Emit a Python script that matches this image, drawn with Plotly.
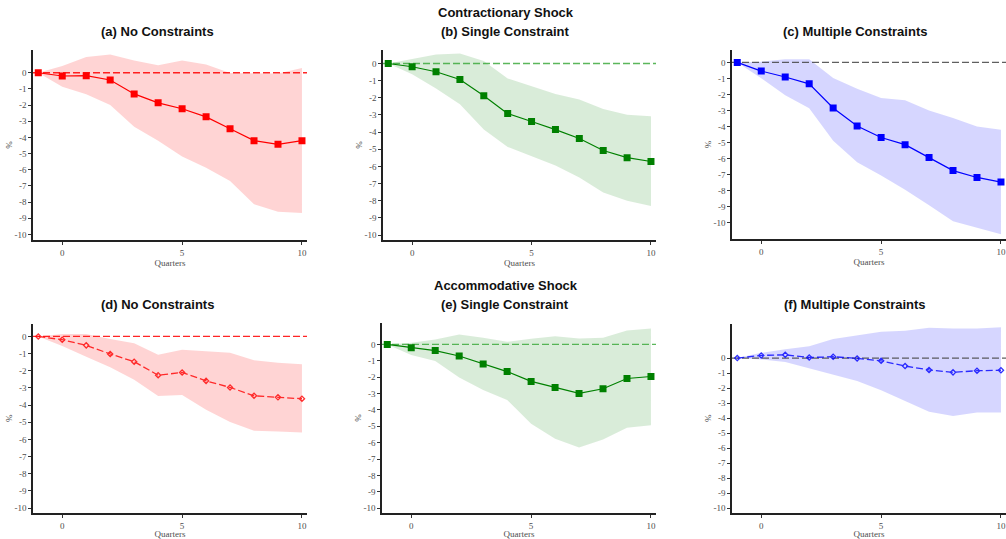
import plotly.graph_objects as go

W, H = 1006, 539
quarters = [-1, 0, 1, 2, 3, 4, 5, 6, 7, 8, 9, 10]
y_ticks = [0, -1, -2, -3, -4, -5, -6, -7, -8, -9, -10]
x_ticks = [0, 5, 10]

# (a) Contractionary - No Constraints
a_mid = [0, -0.2, -0.18, -0.45, -1.31, -1.86, -2.23, -2.73, -3.46, -4.2, -4.43, -4.2]
a_up = [0, 0.41, 0.98, 1.13, 0.76, 0.47, 0.76, 0.51, -0.02, -0.05, -0.05, 0.3]
a_lo = [0, -0.86, -1.33, -2.0, -3.34, -4.2, -5.18, -5.88, -6.7, -8.13, -8.6, -8.67]
# (b) Contractionary - Single Constraint
b_mid = [0, -0.19, -0.48, -0.93, -1.88, -2.92, -3.38, -3.85, -4.37, -5.07, -5.49, -5.71]
b_up = [0, 0.25, 0.52, 0.58, 0.15, -0.87, -1.33, -1.78, -2.09, -2.65, -2.98, -3.08]
b_lo = [0, -0.62, -1.45, -2.38, -3.85, -4.86, -5.4, -5.94, -6.65, -7.52, -8.0, -8.3]
# (c) Contractionary - Multiple Constraints
c_mid = [0, -0.54, -0.91, -1.34, -2.85, -3.97, -4.69, -5.14, -5.95, -6.76, -7.19, -7.48]
c_up = [0, 0.05, 0.2, 0.2, -0.97, -1.65, -2.23, -2.36, -3.0, -3.47, -4.0, -4.21]
c_lo = [0, -0.99, -2.05, -2.87, -4.9, -6.24, -7.07, -7.96, -8.93, -9.92, -10.31, -10.74]
# (d) Accommodative - No Constraints
d_mid = [0, -0.19, -0.52, -1.02, -1.47, -2.26, -2.1, -2.59, -2.97, -3.46, -3.55, -3.63]
d_up = [0, 0.14, 0.14, -0.15, -0.39, -1.06, -0.77, -0.87, -0.95, -1.39, -1.54, -1.62]
d_lo = [0, -0.56, -1.18, -1.8, -2.53, -3.47, -3.42, -4.27, -4.98, -5.5, -5.54, -5.6]
# (e) Accommodative - Single Constraint
e_mid = [0, -0.2, -0.38, -0.71, -1.19, -1.66, -2.26, -2.63, -2.99, -2.71, -2.08, -1.96]
e_up = [0, 0.1, 0.3, 0.61, 0.4, 0.16, 0.34, 0.5, 0.36, 0.4, 0.85, 0.97]
e_lo = [0, -0.65, -1.01, -2.02, -2.79, -3.39, -4.85, -5.76, -6.3, -5.8, -5.09, -4.93]
# (f) Accommodative - Multiple Constraints
f_mid = [0, 0.18, 0.22, 0.04, 0.09, -0.02, -0.18, -0.53, -0.79, -0.95, -0.84, -0.81]
f_up = [0, 0.35, 0.59, 0.79, 1.28, 1.5, 1.76, 1.83, 2.03, 1.98, 1.98, 2.05]
f_lo = [0, -0.09, -0.26, -0.66, -1.1, -1.52, -2.14, -2.86, -3.57, -3.85, -3.63, -3.63]

titles = ["(a) No Constraints", "(b) Single Constraint", "(c) Multiple Constraints",
          "(d) No Constraints", "(e) Single Constraint", "(f) Multiple Constraints"]
row_titles = ["Contractionary Shock", "Accommodative Shock"]

RED, GREEN, BLUE = "#ff0000", "#008000", "#0000ff"
panels = [
    dict(mid=a_mid, up=a_up, lo=a_lo, col=RED, band="rgba(255,0,0,0.17)", zero="#ff0000", dash=False,
         px=(33, 307), py=(50, 242), yr=(-10.36, 1.43)),
    dict(mid=b_mid, up=b_up, lo=b_lo, col=GREEN, band="rgba(0,128,0,0.15)", zero="#3faa3f", dash=False,
         px=(383, 656), py=(50, 242), yr=(-10.3, 0.81)),
    dict(mid=c_mid, up=c_up, lo=c_lo, col=BLUE, band="rgba(0,0,255,0.16)", zero="#444444", dash=False,
         px=(732, 1006), py=(50, 241), yr=(-11.05, 0.8)),
    dict(mid=d_mid, up=d_up, lo=d_lo, col=RED, band="rgba(255,0,0,0.17)", zero="#ff0000", dash=True,
         px=(33, 307), py=(326, 517), yr=(-10.3, 0.75)),
    dict(mid=e_mid, up=e_up, lo=e_lo, col=GREEN, band="rgba(0,128,0,0.15)", zero="#3faa3f", dash=False,
         px=(382, 656), py=(325, 517), yr=(-10.3, 1.33)),
    dict(mid=f_mid, up=f_up, lo=f_lo, col=BLUE, band="rgba(0,0,255,0.16)", zero="#444444", dash=True,
         px=(732, 1006), py=(326, 517), yr=(-10.33, 2.3)),
]

fig = go.Figure()
SERIF = "Liberation Serif"
SANS = "Liberation Sans"

for i, p in enumerate(panels, start=1):
    xa = "x" if i == 1 else f"x{i}"
    ya = "y" if i == 1 else f"y{i}"
    fig.add_trace(go.Scatter(x=quarters + quarters[::-1], y=p["up"] + p["lo"][::-1],
                             fill="toself", fillcolor=p["band"], line=dict(width=0),
                             mode="lines", hoverinfo="skip", showlegend=False,
                             xaxis=xa, yaxis=ya))
    fig.add_trace(go.Scatter(x=[-1.22, 10.25], y=[0, 0], mode="lines",
                             line=dict(color=p["zero"], width=1.3, dash="7px,3px"),
                             opacity=0.85, showlegend=False, hoverinfo="skip",
                             xaxis=xa, yaxis=ya))
    if p["dash"]:
        fig.add_trace(go.Scatter(x=quarters, y=p["mid"], mode="lines+markers",
                                 line=dict(color=p["col"], width=1.3, dash="7px,3px"),
                                 marker=dict(symbol="diamond-open", size=4, color=p["col"],
                                             line=dict(width=1.3, color=p["col"])),
                                 opacity=0.8, showlegend=False, xaxis=xa, yaxis=ya))
    else:
        fig.add_trace(go.Scatter(x=quarters, y=p["mid"], mode="lines+markers",
                                 line=dict(color=p["col"], width=1.2),
                                 marker=dict(symbol="square", size=7, color=p["col"]),
                                 showlegend=False, xaxis=xa, yaxis=ya))

    xd = [p["px"][0] / W, p["px"][1] / W]
    yd = [1 - p["py"][1] / H, 1 - p["py"][0] / H]
    common = dict(showgrid=False, zeroline=False, showline=True, linecolor="#222222",
                  linewidth=1.6, ticks="outside", ticklen=3, tickwidth=1, tickcolor="#333333",
                  tickfont=dict(family=SERIF, size=9, color="#4d4d4d"))
    fig.layout[f"xaxis{'' if i == 1 else i}"] = dict(
        domain=xd, range=[-1.22, 10.21], tickvals=x_ticks, ticktext=[str(v) for v in x_ticks],
        anchor=ya, title=dict(text="Quarters", font=dict(family=SERIF, size=9, color="#4d4d4d"),
                              standoff=2), **common)
    fig.layout[f"yaxis{'' if i == 1 else i}"] = dict(
        domain=yd, range=list(p["yr"]), tickvals=y_ticks, ticktext=[str(v) for v in y_ticks],
        anchor=xa, title=dict(text="%", font=dict(family=SERIF, size=9, color="#4d4d4d"),
                              standoff=0), **common)

annotations = []
title_pos = [(157, 32), (505, 32), (855, 32), (157, 307), (505, 307), (855, 307)]
for t, (x, y) in zip(titles, title_pos):
    annotations.append(dict(text=f"<b>{t}</b>", x=x / W, y=1 - y / H, xref="paper", yref="paper",
                            showarrow=False, xanchor="center", yanchor="middle",
                            font=dict(family=SANS, size=13, color="#111111")))
for t, (x, y) in zip(row_titles, [(506, 13), (506, 288)]):
    annotations.append(dict(text=f"<b>{t}</b>", x=x / W, y=1 - y / H, xref="paper", yref="paper",
                            showarrow=False, xanchor="center", yanchor="middle",
                            font=dict(family=SANS, size=13, color="#111111")))

fig.update_layout(width=W, height=H, margin=dict(l=0, r=0, t=0, b=0),
                  paper_bgcolor="white", plot_bgcolor="white", annotations=annotations,
                  showlegend=False)

fig.write_html("out.html", config={"displayModeBar": False},
               post_script="document.body.style.margin='0';document.body.style.overflow='hidden';")
